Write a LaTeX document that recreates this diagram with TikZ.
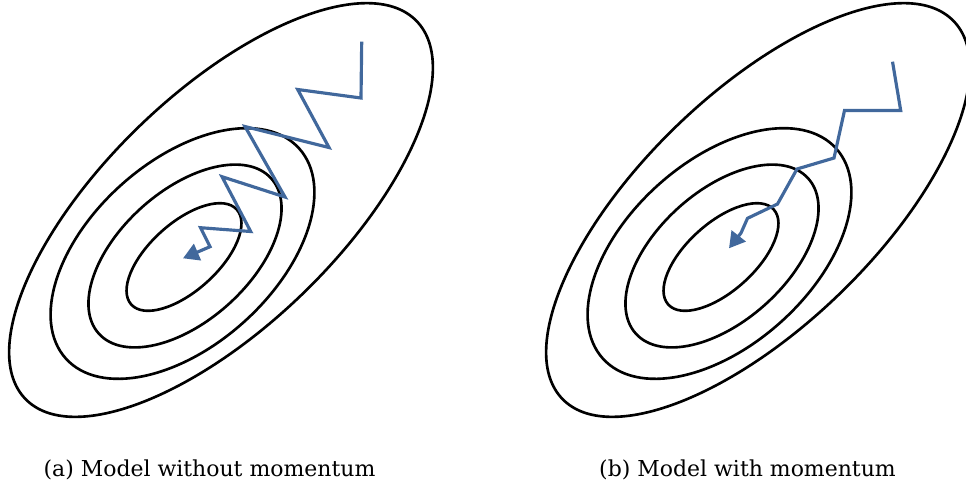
\documentclass[tikz,border=0pt]{standalone}
\usepackage{fontspec}
\setmainfont{DejaVu Serif}
\usepackage{xcolor}
\definecolor{GDblue}{HTML}{41689C}
\usetikzlibrary{arrows.meta, positioning}

\begin{document}
\begin{tikzpicture}[x=0.02cm, y=-0.02cm]
\tikzset{
  contour/.style={black, line width=1.5pt},
  descent/.style={GDblue, line width=1.8pt, -{Triangle[length=9pt, width=10pt]}},
  caption/.style={font=\fontsize{12.5}{15}\selectfont, anchor=base},
}
  \useasboundingbox (0,0) rectangle (966,491);

  % Left panel: contours of the loss
  \coordinate (cA0) at (221,210);
  \coordinate (cA1) at (182.5,253.5);
  \coordinate (cA2) at (185,256);
  \coordinate (cA3) at (184,257);
  \draw[contour, rotate around={44:(cA0)}] (cA0) ellipse [x radius=5.44cm, y radius=2.34cm];
  \draw[contour, rotate around={42:(cA1)}] (cA1) ellipse [x radius=3.14cm, y radius=1.84cm];
  \draw[contour, rotate around={42:(cA2)}] (cA2) ellipse [x radius=2.32cm, y radius=1.3cm];
  \draw[contour, rotate around={42:(cA3)}] (cA3) ellipse [x radius=1.42cm, y radius=0.68cm];

  % Zig-zag descent, no momentum
  \draw[descent] (361.7,41.7) -- (361,98) -- (297.7,89.5) -- (329,147.5)
    -- (245,126.5) -- (285,197) -- (222,176.7) -- (250.7,231.5)
    -- (200.5,227.7) -- (210,246.7) -- (183,258.3);

  % Right panel: same contours, shifted
  \coordinate (cB0) at (758,210);
  \coordinate (cB1) at (719.5,253.5);
  \coordinate (cB2) at (722,256);
  \coordinate (cB3) at (721,257);
  \draw[contour, rotate around={44:(cB0)}] (cB0) ellipse [x radius=5.44cm, y radius=2.34cm];
  \draw[contour, rotate around={42:(cB1)}] (cB1) ellipse [x radius=3.14cm, y radius=1.84cm];
  \draw[contour, rotate around={42:(cB2)}] (cB2) ellipse [x radius=2.32cm, y radius=1.3cm];
  \draw[contour, rotate around={42:(cB3)}] (cB3) ellipse [x radius=1.42cm, y radius=0.68cm];

  % Smoother descent with momentum
  \draw[descent] (892.5,61.7) -- (900.7,110.5) -- (844.5,110.5) -- (834,158)
    -- (797,169) -- (777.5,204) -- (747.5,218.3) -- (741,233) -- (729,248.3);

  % Captions
  \node[caption] (capA) at (209.5,476) {(a) Model without momentum};
  \node[caption] (capB) at (747.5,476) {(b) Model with momentum};
\end{tikzpicture}
\end{document}
